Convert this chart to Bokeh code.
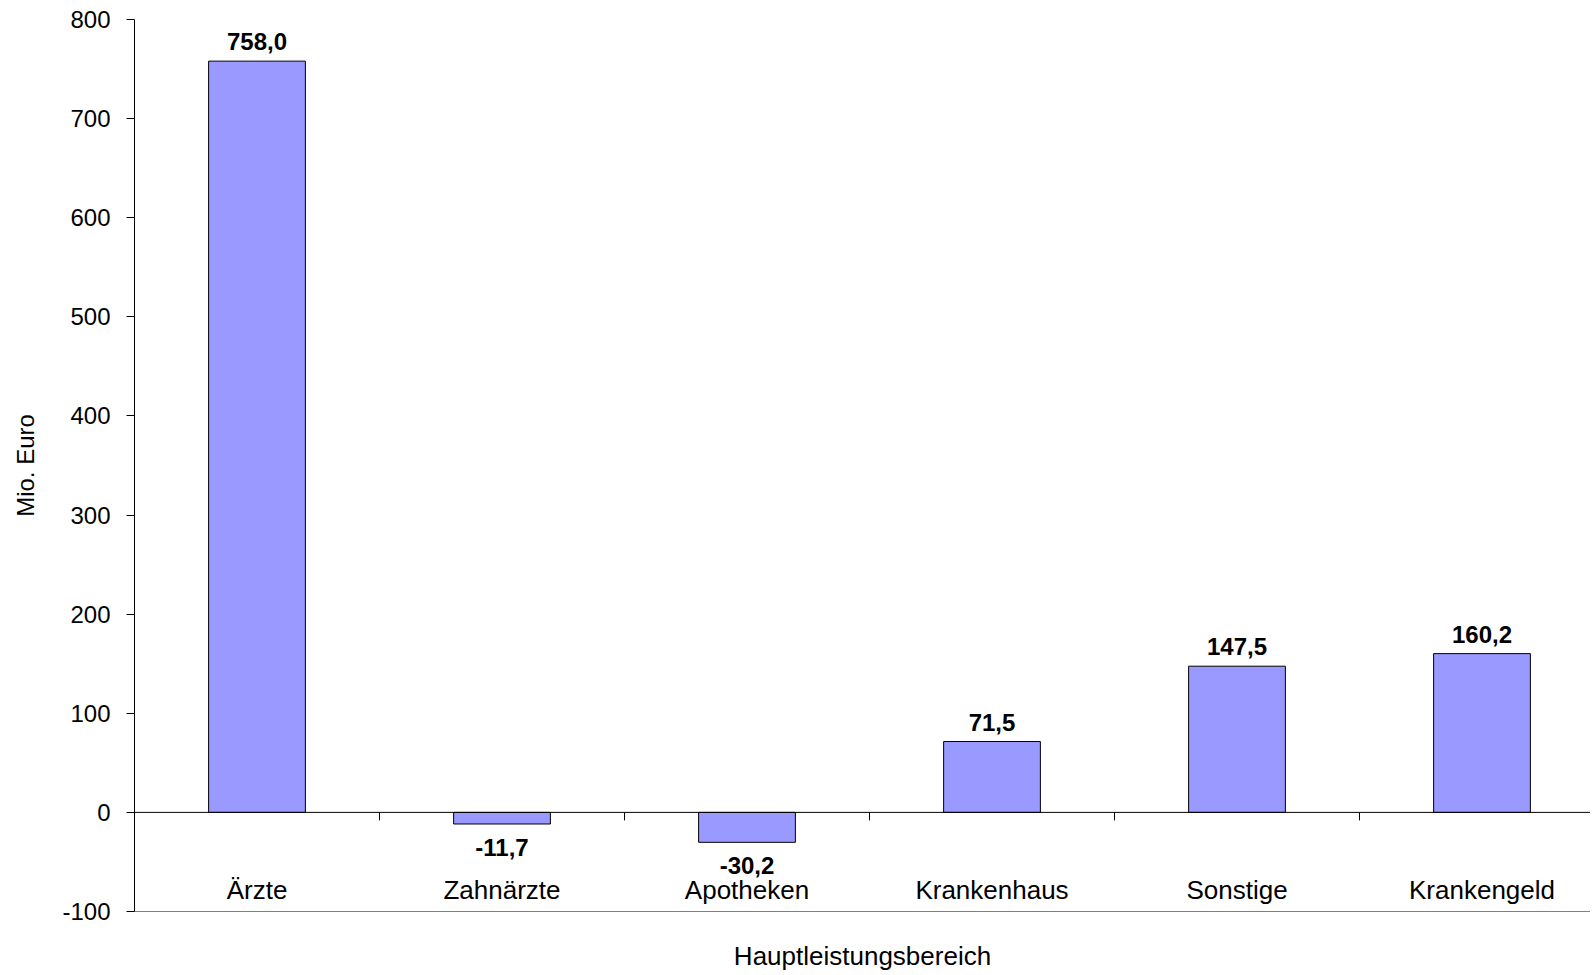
from bokeh.plotting import figure
from bokeh.models import (ColumnDataSource, Range1d, LinearAxis, FixedTicker, LabelSet, Span)
from bokeh.core.properties import value
from bokeh.embed import file_html
from bokeh.resources import INLINE

# ---- data ----
categories = ["Ärzte", "Zahnärzte", "Apotheken", "Krankenhaus", "Sonstige", "Krankengeld"]
values = [758.0, -11.7, -30.2, 71.5, 147.5, 160.2]
y_ticks = [-100, 0, 100, 200, 300, 400, 500, 600, 700, 800]
x_title = "Hauptleistungsbereich"
y_title = "Mio. Euro"

FONT = "Liberation Sans"
W, H = 1590, 973
B_LEFT, B_TOP, B_BOTTOM = 134, 19, 61
FRAME_W, FRAME_H = W - B_LEFT, H - B_TOP - B_BOTTOM
CAT_PX = 245  # width of one category slot in pixels (plot area runs past the right edge)
n = len(categories)
centers = [i + 0.5 for i in range(n)]
boundaries = list(range(1, n + 1))
labels = [f"{v:.1f}".replace(".", ",") for v in values]
y_min, y_max = y_ticks[0], y_ticks[-1]

p = figure(width=W, height=H, output_backend="svg", toolbar_location=None,
           x_axis_type=None, y_axis_type=None,
           x_range=Range1d(0, FRAME_W / CAT_PX), y_range=Range1d(y_min, y_max),
           min_border_left=B_LEFT, min_border_right=0, min_border_top=B_TOP,
           min_border_bottom=B_BOTTOM)
p.outline_line_color = None
p.background_fill_color = "white"
p.border_fill_color = "white"

# y axis
yaxis = LinearAxis(ticker=FixedTicker(ticks=y_ticks), axis_label=y_title)
yaxis.major_label_overrides = {t: str(t) for t in y_ticks}
yaxis.axis_line_color = "black"
yaxis.major_tick_line_color = "black"
yaxis.major_tick_out = 8
yaxis.major_tick_in = 0
yaxis.minor_tick_line_color = None
yaxis.major_label_text_font = FONT
yaxis.major_label_text_font_size = "24px"
yaxis.major_label_text_color = "black"
yaxis.major_label_standoff = 16
yaxis.axis_label_text_font = FONT
yaxis.axis_label_text_font_size = "24px"
yaxis.axis_label_text_font_style = "normal"
yaxis.axis_label_text_color = "black"
yaxis.axis_label_standoff = 20
p.add_layout(yaxis, "left")

# category axis (labels sit just above the bottom frame line)
xaxis = LinearAxis(ticker=FixedTicker(ticks=centers), axis_label=x_title)
xaxis.major_label_overrides = {c: name for c, name in zip(centers, categories)}
xaxis.axis_line_color = "#808080"
xaxis.major_tick_line_color = None
xaxis.major_tick_out = 0
xaxis.major_tick_in = 0
xaxis.minor_tick_line_color = None
xaxis.major_label_text_font = FONT
xaxis.major_label_text_font_size = "26px"
xaxis.major_label_text_color = "black"
xaxis.major_label_standoff = -37
xaxis.axis_label_text_font = FONT
xaxis.axis_label_text_font_size = "26px"
xaxis.axis_label_text_font_style = "normal"
xaxis.axis_label_text_color = "black"
xaxis.axis_label_standoff = 33
p.add_layout(xaxis, "below")

# grid
p.ygrid.grid_line_color = "black"
p.ygrid.grid_line_width = 1
p.ygrid.ticker = FixedTicker(ticks=y_ticks)
p.xgrid.grid_line_color = None

src = ColumnDataSource(dict(x=centers, top=values, lab=labels))
p.vbar(x="x", top="top", bottom=0, width=0.395, source=src,
       fill_color="#9999FF", line_color="black", line_width=1)

# zero line with category separator ticks (8 px long)
tick_len = 8 * (y_max - y_min) / FRAME_H
p.add_layout(Span(location=0, dimension="width", line_color="black", line_width=1))
p.segment(x0=boundaries, y0=[0] * n, x1=boundaries, y1=[-tick_len] * n,
          line_color="black", line_width=1)

pos = ColumnDataSource(dict(x=[c for c, v in zip(centers, values) if v >= 0],
                            y=[v for v in values if v >= 0],
                            lab=[l for l, v in zip(labels, values) if v >= 0]))
neg = ColumnDataSource(dict(x=[c for c, v in zip(centers, values) if v < 0],
                            y=[v for v in values if v < 0],
                            lab=[l for l, v in zip(labels, values) if v < 0]))
p.add_layout(LabelSet(x="x", y="y", text="lab", source=pos, text_align="center",
                      text_baseline="alphabetic", y_offset=11, text_font=value(FONT),
                      text_font_size=value("24px"), text_font_style=value("bold"),
                      text_color=value("black")))
p.add_layout(LabelSet(x="x", y="y", text="lab", source=neg, text_align="center",
                      text_baseline="top", y_offset=-15, text_font=value(FONT),
                      text_font_size=value("24px"), text_font_style=value("bold"),
                      text_color=value("black")))

open("out.html", "w").write(file_html(p, INLINE))
